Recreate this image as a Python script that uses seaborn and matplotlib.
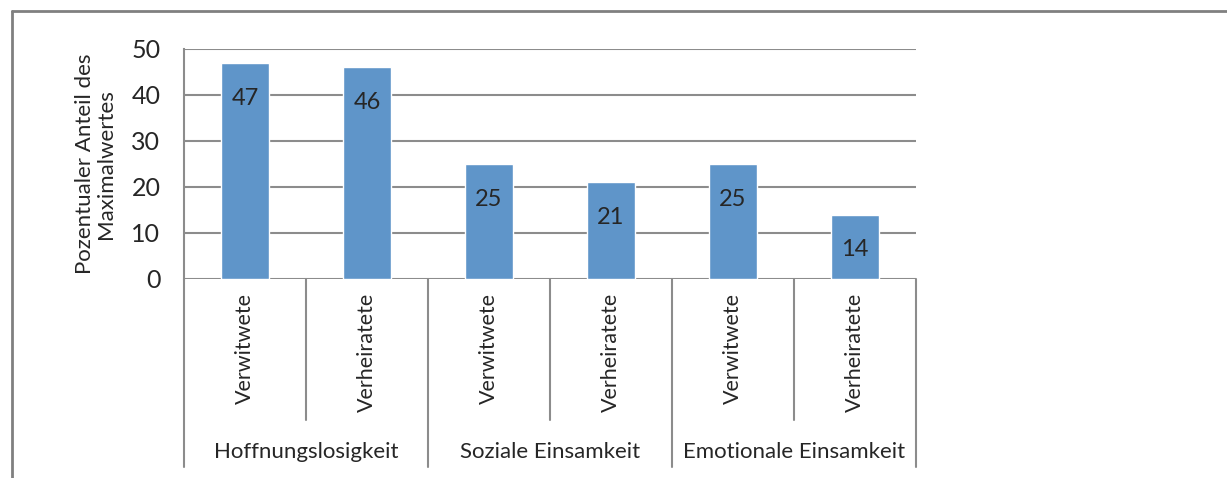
import numpy as np
import pandas as pd
import seaborn as sns
import matplotlib.pyplot as plt
from matplotlib.lines import Line2D

groups = ['Hoffnungslosigkeit', 'Soziale Einsamkeit', 'Emotionale Einsamkeit']
subgroups = ['Verwitwete', 'Verheiratete']
values = [47, 46, 25, 21, 25, 14]
y_ticks = [0, 10, 20, 30, 40, 50]

rows = []
i = 0
for g in groups:
    for s in subgroups:
        rows.append({'key': f'{g}|{s}', 'group': g, 'sub': s, 'value': values[i]})
        i += 1
df = pd.DataFrame(rows)

sns.set_style('white')
plt.rcParams['font.family'] = ['Lato', 'DejaVu Sans']

fig = plt.figure(figsize=(12.27, 4.78), dpi=100)
ax = fig.add_axes([184 / 1227, 1 - 279 / 478, (916 - 184) / 1227, (279 - 49) / 478])

grid_c = '#8c8c8c'
ax.set_axisbelow(True)
for t in y_ticks:
    ax.axhline(t, color=grid_c, lw=1.5, zorder=0)

sns.barplot(data=df, x='key', y='value', order=df['key'], color='#5f95c9',
            width=0.395, saturation=1, ax=ax, zorder=2)

ax.set_ylim(0, 50)
ax.set_xlim(-0.5, len(df) - 0.5)
ax.set_yticks(y_ticks)
ax.set_yticklabels([str(t) for t in y_ticks], fontsize=18)
ax.tick_params(axis='y', length=6, width=1.5, color=grid_c, pad=11)
ax.tick_params(axis='x', length=0)
ax.set_xticklabels([])
ax.set_xlabel('')
ax.set_ylabel('Pozentualer Anteil des\nMaximalwertes', fontsize=16, linespacing=1.05, labelpad=11)
for sp in ['top', 'right', 'bottom']:
    ax.spines[sp].set_visible(False)
ax.spines['left'].set_color(grid_c)
ax.spines['left'].set_linewidth(1.5)

# value labels
for c in ax.containers:
    ax.bar_label(c, labels=[str(v) for v in values], label_type='edge', padding=-33,
                 fontsize=17)

# category labels and separators below the axis
trans = ax.get_xaxis_transform()
n = len(df)
for k, row in df.iterrows():
    ax.text(k, -0.06, row['sub'], rotation=90, ha='center', va='top', fontsize=15.5,
            transform=trans, clip_on=False)
for j, g in enumerate(groups):
    ax.text(j * 2 + 0.5, -0.752, g, ha='center', va='center', fontsize=16,
            transform=trans, clip_on=False)
for b in range(n + 1):
    bottom = -0.817 if b % 2 == 0 else -0.613
    ax.add_line(Line2D([b - 0.5, b - 0.5], [0, bottom], transform=trans, color=grid_c,
                       lw=1.5, clip_on=False))

# chart border
fig.add_artist(Line2D([12 / 1227, 12 / 1227], [0, 1 - 11 / 478], color='#808080', lw=2))
fig.add_artist(Line2D([12 / 1227, 1], [1 - 11 / 478, 1 - 11 / 478], color='#808080', lw=2))

fig.savefig('out.png', dpi=100)
